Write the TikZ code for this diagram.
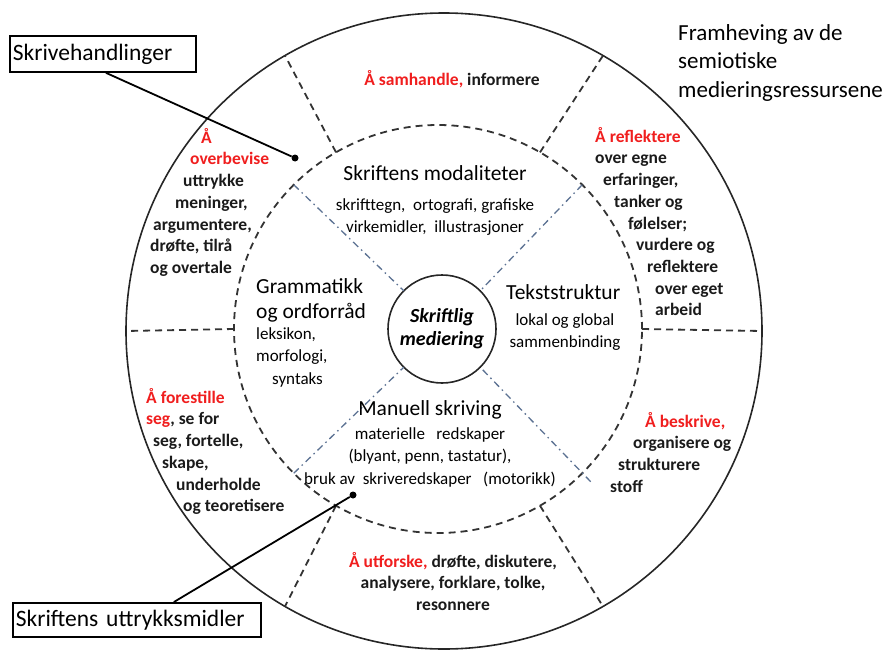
\documentclass[tikz,border=0pt]{standalone}
\usepackage{fontspec}
\setmainfont{Carlito}
\usepackage[HTML]{xcolor}
\usepackage{tikz}

\definecolor{spokeblue}{HTML}{5B7192}
\definecolor{actred}{HTML}{F01E1E}
\newcommand{\redword}[1]{\textcolor{actred}{#1}}

\begin{document}
\begin{tikzpicture}[x=1pt, y=-1pt,
  rimline/.style={draw=black!85, line width=1.6pt},
  ringline/.style={draw=black!80, line width=1.8pt, dash pattern=on 7pt off 5pt},
  spoke/.style={draw=spokeblue, line width=1.3pt, dash pattern=on 7pt off 4pt on 1.5pt off 4pt},
  act/.style={font=\bfseries\fontsize{17.5}{21.7}\selectfont, inner sep=0pt, text=black!90},
  head/.style={font=\fontsize{21.5}{25}\selectfont, inner sep=0pt},
  sub/.style={font=\fontsize{17}{22.5}\selectfont, inner sep=0pt},
  tagbox/.style={draw, line width=1.8pt, font=\fontsize{23.5}{26}\selectfont, inner sep=3pt, anchor=north west, align=left},
  lead/.style={line width=1.8pt},
  blob/.style={circle, fill, inner sep=0pt, minimum size=7pt}]

\useasboundingbox (0,0) rectangle (890,650);

% --- Circles ---
\node[circle, rimline, minimum size=636pt, inner sep=0pt, outer sep=0pt] (rim) at (444,331) {};
\node[circle, ringline, minimum size=408pt, inner sep=0pt, outer sep=0pt] (ring) at (438,329) {};
\node[circle, rimline, minimum size=108pt, inner sep=0pt, outer sep=0pt, align=center,
      font=\bfseries\itshape\fontsize{20}{23}\selectfont] (hub) at (442,329) {Skriftlig\\mediering};

% --- Sector borders (outer ring) ---
\draw[ringline] (ring.0) -- (rim.0);
\draw[ringline] (ring.60) -- (rim.60);
\draw[ringline] (ring.120) -- (rim.120);
\draw[ringline] (ring.180) -- (rim.180);
\draw[ringline] (ring.240) -- (rim.240);
\draw[ringline] (ring.300) -- (rim.300);

% --- Inner dash-dot borders ---
\draw[spoke] (ring.45) -- (hub.45);
\draw[spoke] (ring.135) -- (hub.135);
\draw[spoke] (ring.225) -- (hub.225);
\draw[spoke] ([shift={(-45:12pt)}]ring.315) -- (hub.315); % runs a bit past the ring

% --- Writing acts (outer ring) ---
\node[act, anchor=base] (samhandle) at (452,86) {\redword{Å samhandle,} informere};
\node[act, anchor=north west, align=left] (overbevise) at (150,128)
  {\hspace*{51pt}\redword{Å}\\ \hspace*{40pt}\redword{overbevise}\\ \hspace*{33pt}uttrykke\\
   \hspace*{25pt}meninger,\\ \hspace*{3pt}argumentere,\\ drøfte, tilrå\\ og overtale};
\node[act, anchor=north west, align=left] (reflektere) at (595,127)
  {\redword{Å reflektere}\\ over egne\\ \hspace*{8pt}erfaringer,\\ \hspace*{19pt}tanker og\\
   \hspace*{33pt}følelser;\\ \hspace*{41pt}vurdere og\\ \hspace*{52pt}reflektere\\
   \hspace*{60pt}over eget\\ \hspace*{60pt}arbeid};
\node[act, anchor=north west, align=left] (forestille) at (146,388)
  {\redword{Å forestille}\\ \redword{seg}, se for\\ \hspace*{7pt}seg, fortelle,\\ \hspace*{16pt}skape,\\
   \hspace*{30pt}underholde\\ \hspace*{37pt}og teoretisere};
\node[act, anchor=north west, align=left] (beskrive) at (610,412)
  {\hspace*{35pt}\redword{Å beskrive,}\\ \hspace*{23pt}organisere og\\ \hspace*{8pt}strukturere\\ stoff};
\node[act, anchor=north, align=center] (utforske) at (453,552)
  {\redword{Å utforske,} drøfte, diskutere,\\ analysere, forklare, tolke,\\ resonnere};

% --- Means of expression (inner ring) ---
\node[head, anchor=base] (modhead) at (435,180) {Skriftens modaliteter};
\node[sub, anchor=north, align=center] (modsub) at (435,198)
  {skrifttegn, \ ortografi, grafiske\\ virkemidler, \ illustrasjoner};
\node[head, anchor=north west, align=left] (gramhead) at (256,278) {Grammatikk\\og ordforråd};
\node[sub, anchor=north west, align=left] (gramsub) at (256,327)
  {leksikon,\\ morfologi,\\ \hspace*{16pt}syntaks};
\node[head, anchor=base west] (tekhead) at (506,299) {Tekststruktur};
\node[sub, anchor=north, align=center] (teksub) at (565,313) {lokal og global\\ sammenbinding};
\node[head, anchor=base] (manhead) at (430,415) {Manuell skriving};
\node[sub, anchor=north, align=center] (mansub) at (430,427)
  {materielle \ \ redskaper\\ (blyant, penn, tastatur),\\ bruk av \ skriveredskaper \ \ (motorikk)};

% --- Title ---
\node[anchor=north west, align=left, inner sep=0pt, font=\fontsize{23}{28.5}\selectfont] (title)
  at (678,24) {Framheving av de\\semiotiske\\medieringsressursene};

% --- Callouts ---
\node[tagbox, text width=180pt, minimum height=36pt] (handlinger) at (9,35) {Skrivehandlinger};
\node[tagbox, text width=242pt, minimum height=34pt] (uttrykk) at (12,602) {Skriftens uttrykksmidler};
\node[blob] (hdot) at (295,158) {};
\node[blob] (udot) at (353,495) {};
\draw[lead] ([xshift=3pt]handlinger.south) -- (hdot);
\draw[lead] ([xshift=37pt]uttrykk.north) -- (udot);

\end{tikzpicture}
\end{document}
